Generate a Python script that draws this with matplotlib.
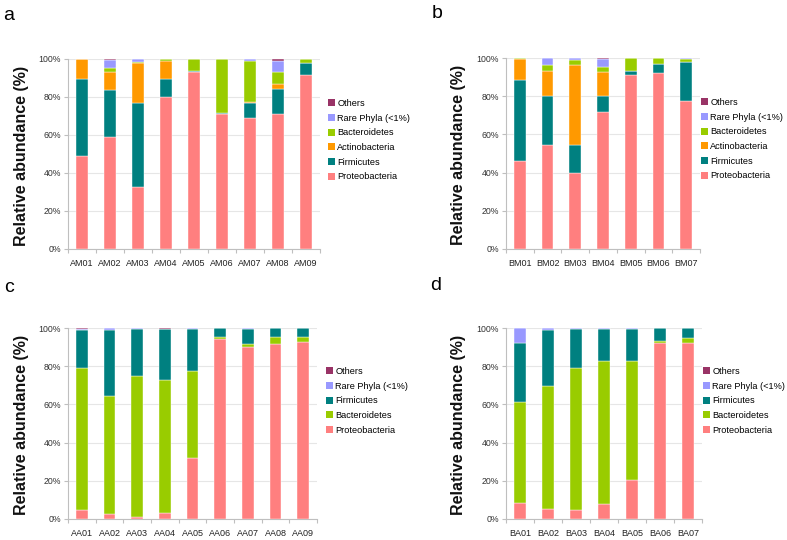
import numpy as np
import matplotlib
matplotlib.use('Agg')
import matplotlib.pyplot as plt
from matplotlib.patches import Patch

plt.rcParams['font.family'] = ['Liberation Sans', 'DejaVu Sans']

# colours per phylum
colors = {
    'Proteobacteria': '#FF7F7F',
    'Firmicutes': '#008080',
    'Actinobacteria': '#FF9900',
    'Bacteroidetes': '#99CC00',
    'Rare Phyla (<1%)': '#9999FF',
    'Others': '#993366',
}

# panel a - AM samples (percent)
am_samples = ['AM01', 'AM02', 'AM03', 'AM04', 'AM05', 'AM06', 'AM07', 'AM08', 'AM09']
am_proteo = [48.7, 59.2, 32.6, 79.9, 93.0, 70.9, 69.2, 71.3, 91.6]
am_firmi = [40.8, 24.5, 44.5, 9.6, 0.9, 0.9, 7.9, 12.8, 6.3]
am_actino = [10.3, 9.3, 20.6, 9.3, 0.0, 0.0, 0.3, 2.8, 0.0]
am_bacter = [0.2, 2.4, 0.7, 1.2, 6.1, 28.2, 21.7, 6.3, 2.1]
am_rare = [0.0, 3.9, 1.6, 0.0, 0.0, 0.0, 0.9, 5.7, 0.0]
am_others = [0.0, 0.7, 0.0, 0.0, 0.0, 0.0, 0.0, 1.1, 0.0]

# panel b - BM samples
bm_samples = ['BM01', 'BM02', 'BM03', 'BM04', 'BM05', 'BM06', 'BM07']
bm_proteo = [46.1, 54.5, 40.0, 71.6, 90.9, 92.0, 77.7]
bm_firmi = [42.2, 25.4, 14.5, 8.7, 2.1, 4.9, 20.4]
bm_actino = [11.4, 13.1, 42.0, 12.2, 0.4, 0.0, 0.0]
bm_bacter = [0.3, 3.2, 2.6, 3.0, 6.6, 3.1, 1.2]
bm_rare = [0.0, 3.8, 0.9, 4.0, 0.0, 0.0, 0.7]
bm_others = [0.0, 0.0, 0.0, 0.5, 0.0, 0.0, 0.0]

# panel c - AA samples
aa_samples = ['AA01', 'AA02', 'AA03', 'AA04', 'AA05', 'AA06', 'AA07', 'AA08', 'AA09']
aa_proteo = [4.7, 2.8, 0.9, 3.0, 31.9, 94.2, 89.9, 91.6, 92.7]
aa_bacter = [74.5, 61.8, 74.1, 70.0, 45.4, 1.1, 1.7, 3.7, 2.6]
aa_firmi = [19.8, 34.4, 24.3, 26.7, 22.4, 4.7, 8.1, 4.7, 4.7]
aa_rare = [0.4, 1.0, 0.7, 0.0, 0.3, 0.0, 0.3, 0.0, 0.0]
aa_others = [0.6, 0.0, 0.0, 0.3, 0.0, 0.0, 0.0, 0.0, 0.0]

# panel d - BA samples
ba_samples = ['BA01', 'BA02', 'BA03', 'BA04', 'BA05', 'BA06', 'BA07']
ba_proteo = [8.2, 5.1, 4.9, 8.0, 20.4, 92.0, 92.0]
ba_bacter = [53.1, 64.7, 74.3, 74.5, 62.3, 1.0, 2.8]
ba_firmi = [30.8, 29.0, 20.1, 16.8, 17.0, 7.0, 5.2]
ba_rare = [7.9, 1.2, 0.7, 0.7, 0.3, 0.0, 0.0]
ba_others = [0.0, 0.0, 0.0, 0.0, 0.0, 0.0, 0.0]

W, H = 787, 540
fig = plt.figure(figsize=(W / 100, H / 100), dpi=100)


def px_axes(l, t, r, b):
    return fig.add_axes([l / W, 1 - b / H, (r - l) / W, (b - t) / H])


def draw_panel(box, samples, series, legend_pos, letter, letter_pos, ylab_x):
    ax = px_axes(*box)
    x = np.arange(len(samples))
    bottom = np.zeros(len(samples))
    for name, vals in series:
        vals = np.array(vals)
        ax.bar(x, vals, 0.42, bottom=bottom, color=colors[name],
               edgecolor='white', linewidth=0.3, zorder=3)
        bottom += vals
    ax.set_xlim(-0.5, len(samples) - 0.5)
    ax.set_ylim(0, 100)
    ax.set_yticks(np.arange(0, 101, 20))
    ax.set_yticklabels(['%d%%' % v for v in range(0, 101, 20)], fontsize=6.3, color='#333333')
    ax.set_xticks(x)
    ax.set_xticklabels(samples, fontsize=6.5, color='#222222')
    ax.set_xticks(np.arange(len(samples) + 1) - 0.5, minor=True)
    ax.tick_params(axis='x', which='major', length=0, pad=7)
    ax.tick_params(axis='x', which='minor', length=3, color='#BFBFBF', width=0.8)
    ax.tick_params(axis='y', length=3, color='#BFBFBF', width=0.8, pad=2)
    ax.grid(axis='y', color='#E6E6E6', linewidth=0.8, zorder=0)
    for s in ['top', 'right']:
        ax.spines[s].set_visible(False)
    for s in ['left', 'bottom']:
        ax.spines[s].set_color('#BFBFBF')
        ax.spines[s].set_linewidth(0.8)
    ax.set_ylabel('Relative abundance (%)', fontsize=11.5, fontweight='bold', color='#111111')
    ax.yaxis.set_label_coords((ylab_x - box[0]) / (box[2] - box[0]), 0.49)

    handles = [Patch(facecolor=colors[n], edgecolor='none') for n, _ in series][::-1]
    labels = [n for n, _ in series][::-1]
    fig.legend(handles, labels, loc='upper left',
               bbox_to_anchor=(legend_pos[0] / W, 1 - legend_pos[1] / H),
               frameon=False, fontsize=6.6, handlelength=0.75, handleheight=0.75,
               handletextpad=0.25, labelspacing=0.62, borderpad=0, borderaxespad=0)
    fig.text(letter_pos[0] / W, 1 - letter_pos[1] / H, letter, fontsize=14,
             ha='center', va='center')
    return ax


draw_panel((68, 59, 320, 249), am_samples,
           [('Proteobacteria', am_proteo), ('Firmicutes', am_firmi),
            ('Actinobacteria', am_actino), ('Bacteroidetes', am_bacter),
            ('Rare Phyla (<1%)', am_rare), ('Others', am_others)],
           (328, 99), 'a', (9, 16), 29)

draw_panel((506, 58, 700, 249), bm_samples,
           [('Proteobacteria', bm_proteo), ('Firmicutes', bm_firmi),
            ('Actinobacteria', bm_actino), ('Bacteroidetes', bm_bacter),
            ('Rare Phyla (<1%)', bm_rare), ('Others', bm_others)],
           (701, 98), 'b', (437, 14), 466)

draw_panel((68, 328, 317, 519), aa_samples,
           [('Proteobacteria', aa_proteo), ('Bacteroidetes', aa_bacter),
            ('Firmicutes', aa_firmi), ('Rare Phyla (<1%)', aa_rare),
            ('Others', aa_others)],
           (326, 367), 'c', (9, 288), 29)

draw_panel((506, 328, 702, 519), ba_samples,
           [('Proteobacteria', ba_proteo), ('Bacteroidetes', ba_bacter),
            ('Firmicutes', ba_firmi), ('Rare Phyla (<1%)', ba_rare),
            ('Others', ba_others)],
           (703, 367), 'd', (436, 285), 466)

fig.savefig('out.png', dpi=100)
